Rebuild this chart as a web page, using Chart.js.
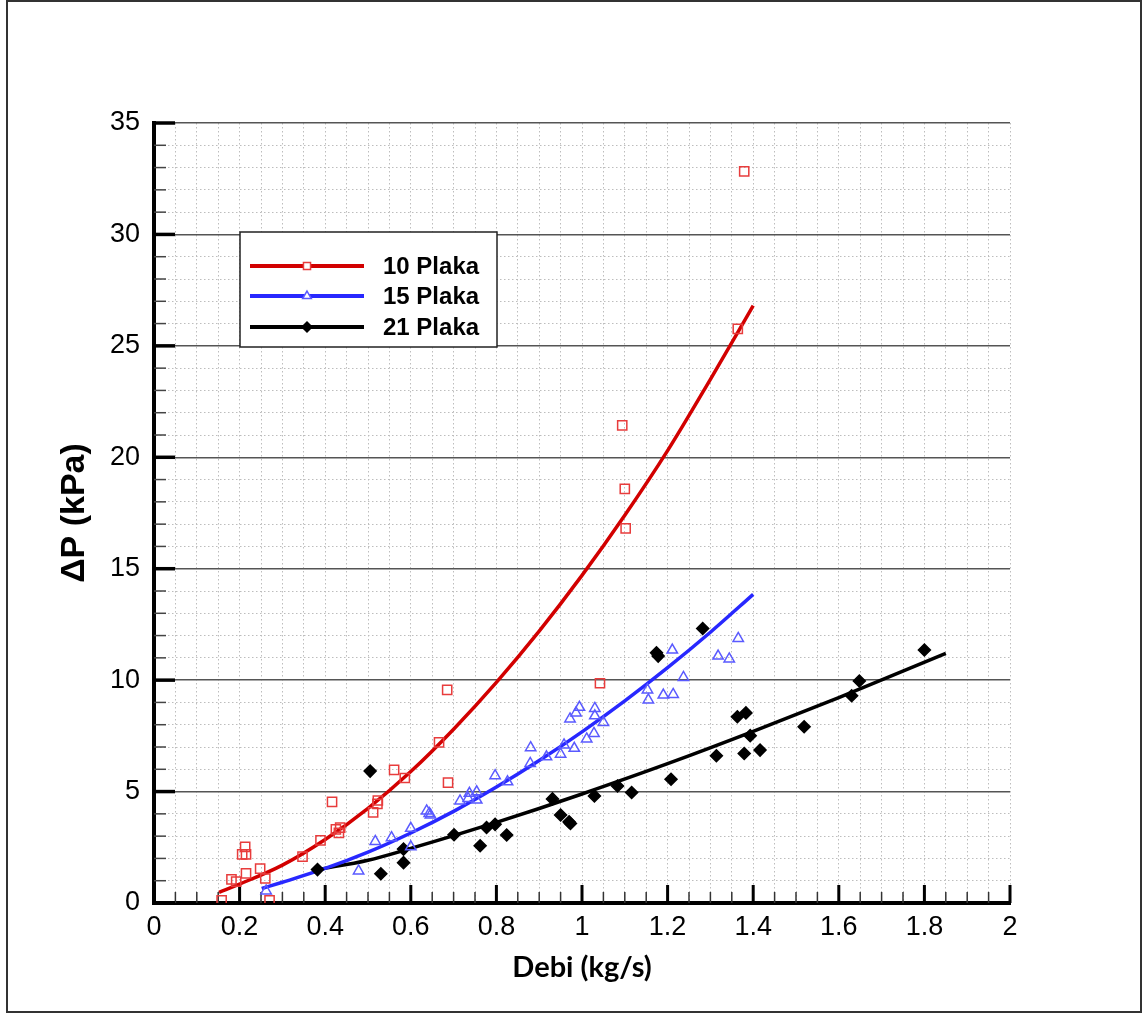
<!DOCTYPE html>
<html>
<head>
<meta charset="utf-8">
<script src="https://cdn.jsdelivr.net/npm/chart.js@4/dist/chart.umd.min.js"></script>
<style>
  html, body { margin: 0; padding: 0; background: #fff; }
  #wrap { width: 1147px; height: 1015px; }
</style>
</head>
<body>
<div id="wrap"><canvas id="chart" width="1147" height="1015"></canvas></div>
<script>
const plaka10X = [0.158, 0.181, 0.192, 0.206, 0.215, 0.213, 0.215, 0.248, 0.260, 0.270, 0.347, 0.389, 0.416, 0.425, 0.432, 0.435,
  0.512, 0.522, 0.523, 0.561, 0.586, 0.666, 0.687, 0.685, 1.042, 1.094, 1.100, 1.102, 1.364, 1.379];
const plaka10Y = [0.12, 1.06, 0.96, 2.18, 2.18, 2.52, 1.33, 1.54, 1.10, 0.12, 2.08, 2.81, 4.54, 3.30, 3.15, 3.38,
  4.07, 4.45, 4.60, 5.97, 5.61, 7.21, 5.40, 9.56, 9.86, 21.43, 18.58, 16.81, 25.76, 32.83];

const plaka15X = [0.262, 0.478, 0.517, 0.555, 0.600, 0.600, 0.637, 0.643, 0.646, 0.715, 0.734, 0.737, 0.754, 0.754, 0.797,
  0.826, 0.880, 0.879, 0.917, 0.950, 0.958, 0.982, 0.972, 0.986, 0.994, 1.011, 1.028, 1.030, 1.030, 1.050, 1.153, 1.155,
  1.190, 1.213, 1.211, 1.237, 1.318, 1.344, 1.365];
const plaka15Y = [0.54, 1.44, 2.76, 2.93, 3.35, 2.52, 4.13, 4.02, 3.95, 4.58, 4.69, 4.92, 4.99, 4.62, 5.71,
  5.44, 6.97, 6.26, 6.56, 6.68, 7.09, 6.94, 8.26, 8.53, 8.78, 7.36, 7.61, 8.73, 8.40, 8.10, 9.56, 9.11,
  9.33, 9.36, 11.35, 10.12, 11.08, 10.95, 11.87];

const plaka21X = [0.382, 0.505, 0.530, 0.583, 0.583, 0.701, 0.762, 0.777, 0.797, 0.824, 0.931, 0.950, 0.970, 0.973, 1.029,
  1.083, 1.116, 1.174, 1.178, 1.208, 1.282, 1.314, 1.363, 1.383, 1.393, 1.379, 1.416, 1.519, 1.630, 1.648, 1.800];
const plaka21Y = [1.50, 5.92, 1.31, 2.42, 1.81, 3.06, 2.57, 3.39, 3.53, 3.05, 4.67, 3.95, 3.64, 3.57, 4.80,
  5.25, 4.96, 11.23, 11.08, 5.55, 12.32, 6.61, 8.36, 8.53, 7.51, 6.71, 6.86, 7.91, 9.30, 9.96, 11.35];

// trend curves
const fit10X = [0.152, 0.2, 0.3, 0.4, 0.5, 0.6, 0.7, 0.8, 0.9, 1.0, 1.1, 1.2, 1.3, 1.4];
const fit10Y = [0.48, 0.85, 1.7, 2.85, 4.25, 5.9, 7.8, 9.9, 12.2, 14.7, 17.4, 20.3, 23.5, 26.8];
const fit15X = [0.252, 0.3, 0.4, 0.5, 0.6, 0.7, 0.8, 0.9, 1.0, 1.1, 1.2, 1.3, 1.4];
const fit15Y = [0.65, 0.93, 1.55, 2.28, 3.14, 4.11, 5.2, 6.39, 7.68, 9.07, 10.56, 12.15, 13.85];
const fit21X = [0.382, 0.5, 0.6, 0.7, 0.8, 0.9, 1.0, 1.2, 1.4, 1.6, 1.85];
const fit21Y = [1.5, 1.92, 2.45, 3.02, 3.62, 4.24, 4.89, 6.25, 7.7, 9.22, 11.2];

const seriesNames = ['10 Plaka', '15 Plaka', '21 Plaka'];
const xTicks = [0, 0.2, 0.4, 0.6, 0.8, 1, 1.2, 1.4, 1.6, 1.8, 2];
const yTicks = [0, 5, 10, 15, 20, 25, 30, 35];

const toPts = (xs, ys) => xs.map((x, i) => ({ x: x, y: ys[i] }));
const isMajor = (v, step) => Math.abs(v / step - Math.round(v / step)) < 1e-6;

const styles = [
  { line: 'rgb(210,0,0)', mark: 'rgb(232,60,60)', shape: 'rect', r: 6.5, fill: 'rgba(0,0,0,0)' },
  { line: 'rgb(40,40,255)', mark: 'rgb(90,90,255)', shape: 'triangle', r: 6, fill: 'rgba(0,0,0,0)' },
  { line: 'rgb(0,0,0)', mark: 'rgb(0,0,0)', shape: 'rectRot', r: 6, fill: 'rgb(0,0,0)' }
];

const pointSets = [toPts(plaka10X, plaka10Y), toPts(plaka15X, plaka15Y), toPts(plaka21X, plaka21Y)];
const fitSets = [toPts(fit10X, fit10Y), toPts(fit15X, fit15Y), toPts(fit21X, fit21Y)];

const datasets = [];
pointSets.forEach((pts, i) => {
  datasets.push({
    label: seriesNames[i] + ' data',
    data: pts,
    showLine: false,
    pointStyle: styles[i].shape,
    pointRadius: styles[i].r,
    pointBorderWidth: 1.5,
    pointBorderColor: styles[i].mark,
    pointBackgroundColor: styles[i].fill
  });
});
fitSets.forEach((pts, i) => {
  datasets.push({
    label: seriesNames[i],
    data: pts,
    showLine: true,
    borderColor: styles[i].line,
    borderWidth: 3.5,
    pointRadius: 0,
    cubicInterpolationMode: 'monotone',
    fill: false
  });
});

// inward major / minor ticks like the original plot
const inwardTicks = {
  id: 'inwardTicks',
  beforeDatasetsDraw(chart) {
    const ctx = chart.ctx;
    const area = chart.chartArea;
    const xs = chart.scales.x, ys = chart.scales.y;
    ctx.save();
    xs.ticks.forEach(t => {
      const px = xs.getPixelForValue(t.value);
      const major = isMajor(t.value, 0.2);
      ctx.strokeStyle = major ? '#000' : '#333';
      ctx.lineWidth = major ? 3 : 1.5;
      ctx.beginPath();
      ctx.moveTo(px, area.bottom);
      ctx.lineTo(px, area.bottom - (major ? 18 : 11));
      ctx.stroke();
    });
    ys.ticks.forEach(t => {
      const py = ys.getPixelForValue(t.value);
      const major = isMajor(t.value, 5);
      ctx.strokeStyle = major ? '#000' : '#444';
      ctx.lineWidth = major ? 3.5 : 1.5;
      ctx.beginPath();
      ctx.moveTo(area.left, py);
      ctx.lineTo(area.left + (major ? 21 : 12), py);
      ctx.stroke();
    });
    ctx.restore();
  }
};

// boxed legend with line + marker
const boxLegend = {
  id: 'boxLegend',
  afterDraw(chart) {
    const ctx = chart.ctx;
    ctx.save();
    ctx.fillStyle = '#fff';
    ctx.fillRect(240, 232, 257, 115);
    ctx.strokeStyle = '#222';
    ctx.lineWidth = 1.5;
    ctx.strokeRect(240, 232, 257, 115);
    const rows = [266, 296, 327];
    seriesNames.forEach((name, i) => {
      const y = rows[i];
      ctx.strokeStyle = styles[i].line;
      ctx.lineWidth = 4;
      ctx.beginPath();
      ctx.moveTo(250, y);
      ctx.lineTo(364, y);
      ctx.stroke();
      ctx.strokeStyle = styles[i].mark;
      ctx.fillStyle = i === 2 ? '#000' : '#fff';
      ctx.lineWidth = 1.5;
      Chart.helpers.drawPoint(ctx, { pointStyle: styles[i].shape, radius: 5, borderWidth: 1.5, rotation: 0 }, 307, y);
      ctx.fillStyle = '#000';
      ctx.font = 'bold 24px "Liberation Sans", Arial, sans-serif';
      ctx.textBaseline = 'middle';
      ctx.textAlign = 'left';
      ctx.fillText(name, 383, y + 1);
    });
    ctx.restore();
  }
};

// thin frame around the whole figure
const frame = {
  id: 'frame',
  afterDraw(chart) {
    const ctx = chart.ctx;
    ctx.save();
    ctx.strokeStyle = '#333';
    ctx.lineWidth = 2;
    ctx.strokeRect(7, 1, 1134, 1011);
    ctx.restore();
  }
};

new Chart(document.getElementById('chart'), {
  type: 'scatter',
  data: { datasets: datasets },
  plugins: [inwardTicks, boxLegend, frame],
  options: {
    responsive: false,
    animation: false,
    layout: { padding: { left: 0, top: 123, right: 137, bottom: 0 } },
    plugins: { legend: { display: false }, tooltip: { enabled: false } },
    scales: {
      x: {
        type: 'linear',
        min: 0, max: 2,
        afterFit(scale) { scale.height = 112; },
        afterBuildTicks(scale) {
          const t = [];
          for (let i = 0; i <= 40; i++) t.push({ value: Math.round(i * 5) / 100 });
          scale.ticks = t;
        },
        ticks: {
          autoSkip: false,
          maxRotation: 0,
          padding: 8,
          color: '#000',
          font: { family: '"Liberation Sans", Arial, sans-serif', size: 27 },
          callback: v => xTicks.some(m => Math.abs(m - v) < 1e-6) ? String(Math.round(v * 10) / 10) : ''
        },
        grid: { drawTicks: false, color: '#bdbdbd', lineWidth: 1 },
        border: { display: true, color: '#000', width: 4, dash: [1.5, 2.5] },
        title: {
          display: true,
          text: 'Debi (kg/s)',
          color: '#000',
          font: { family: 'Lato, "Open Sans", sans-serif', size: 29, weight: 'bold' },
          padding: { top: 0, bottom: 30 }
        }
      },
      y: {
        type: 'linear',
        min: 0, max: 35,
        afterFit(scale) { scale.width = 154; },
        ticks: {
          stepSize: 1,
          autoSkip: false,
          padding: 14,
          color: '#000',
          font: { family: '"Liberation Sans", Arial, sans-serif', size: 27 },
          callback: v => yTicks.includes(v) ? String(v) : ''
        },
        grid: {
          drawTicks: false,
          color: c => (c.tick && isMajor(c.tick.value, 5)) ? '#555' : '#bdbdbd',
          lineWidth: c => (c.tick && isMajor(c.tick.value, 5)) ? 1.5 : 1
        },
        border: {
          display: true, color: '#000', width: 4,
          dash: c => (c.tick && isMajor(c.tick.value, 5)) ? [] : [1.5, 2.5]
        },
        title: {
          display: true,
          text: 'ΔP (kPa)',
          color: '#000',
          font: { family: '"Liberation Sans", Arial, sans-serif', size: 34, weight: 'bold' },
          padding: { top: 54, bottom: 0 }
        }
      }
    }
  }
});
</script>
</body>
</html>
